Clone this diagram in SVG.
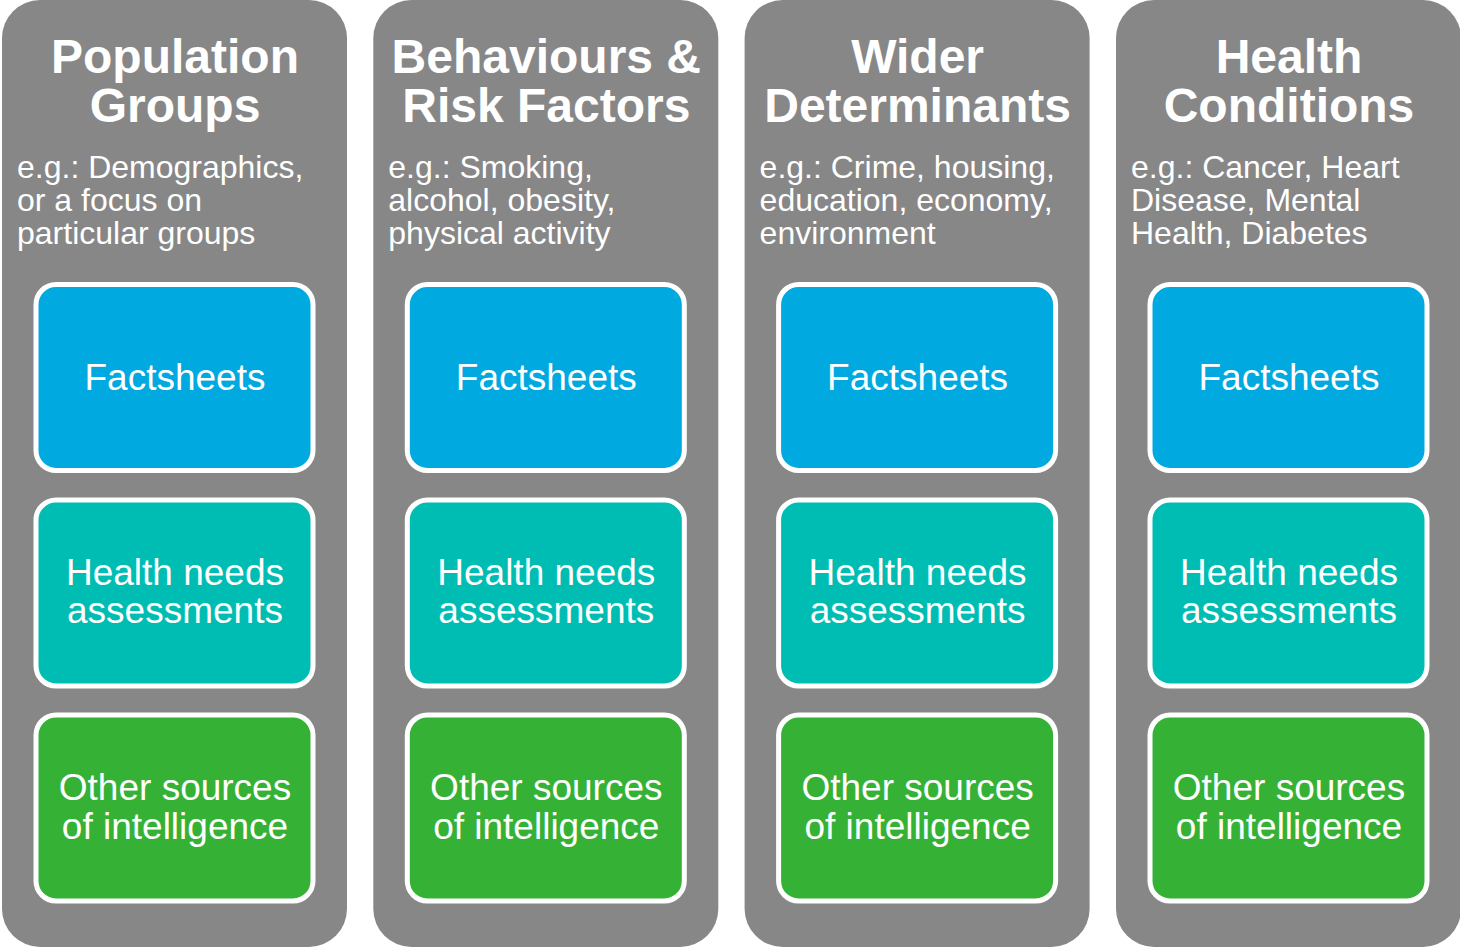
<svg xmlns="http://www.w3.org/2000/svg" width="1460" height="947" viewBox="0 0 1460 947">
  <style>
    .panel { fill: #878787; }
    .box { stroke: #ffffff; stroke-width: 5; }
    .fact { fill: #00a9e0; }
    .hna { fill: #00bdb4; }
    .other { fill: #35b236; }
    .title { font-family: "Liberation Sans", Arial, sans-serif; font-weight: bold; font-size: 48px; fill: #ffffff; text-anchor: middle; }
    .sub { font-family: "Liberation Sans", Arial, sans-serif; font-size: 32px; fill: #ffffff; }
    .lbl { font-family: "Liberation Sans", Arial, sans-serif; font-size: 37px; fill: #ffffff; text-anchor: middle; }
  </style>
  <defs>
    <g id="boxes">
      <rect class="box fact" x="36" y="284.5" width="277" height="186" rx="20"/>
      <text class="lbl" x="175" y="390">Factsheets</text>
      <rect class="box hna" x="36" y="500" width="277" height="186" rx="20"/>
      <text class="lbl" x="175" y="585">Health needs</text>
      <text class="lbl" x="175" y="623">assessments</text>
      <rect class="box other" x="36" y="715" width="277" height="186" rx="20"/>
      <text class="lbl" x="175" y="800">Other sources</text>
      <text class="lbl" x="175" y="839">of intelligence</text>
    </g>
  </defs>

  <g id="population-groups">
    <rect class="panel" x="2" y="0" width="345" height="947" rx="38"/>
    <text class="title" x="175" y="73">Population</text>
    <text class="title" x="175" y="122">Groups</text>
    <text class="sub" x="17" y="178">e.g.: Demographics,</text>
    <text class="sub" x="17" y="211">or a focus on</text>
    <text class="sub" x="17" y="244">particular groups</text>
    <use href="#boxes"/>
  </g>

  <g id="behaviours-risk-factors" transform="translate(371.3 0)">
    <rect class="panel" x="2" y="0" width="345" height="947" rx="38"/>
    <text class="title" x="175" y="73">Behaviours &amp;</text>
    <text class="title" x="175" y="122">Risk Factors</text>
    <text class="sub" x="17" y="178">e.g.: Smoking,</text>
    <text class="sub" x="17" y="211">alcohol, obesity,</text>
    <text class="sub" x="17" y="244">physical activity</text>
    <use href="#boxes"/>
  </g>

  <g id="wider-determinants" transform="translate(742.6 0)">
    <rect class="panel" x="2" y="0" width="345" height="947" rx="38"/>
    <text class="title" x="175" y="73">Wider</text>
    <text class="title" x="175" y="122">Determinants</text>
    <text class="sub" x="17" y="178">e.g.: Crime, housing,</text>
    <text class="sub" x="17" y="211">education, economy,</text>
    <text class="sub" x="17" y="244">environment</text>
    <use href="#boxes"/>
  </g>

  <g id="health-conditions" transform="translate(1114 0)">
    <rect class="panel" x="2" y="0" width="345" height="947" rx="38"/>
    <text class="title" x="175" y="73">Health</text>
    <text class="title" x="175" y="122">Conditions</text>
    <text class="sub" x="17" y="178">e.g.: Cancer, Heart</text>
    <text class="sub" x="17" y="211">Disease, Mental</text>
    <text class="sub" x="17" y="244">Health, Diabetes</text>
    <use href="#boxes"/>
  </g>

  <g id="connectors"/>
</svg>
